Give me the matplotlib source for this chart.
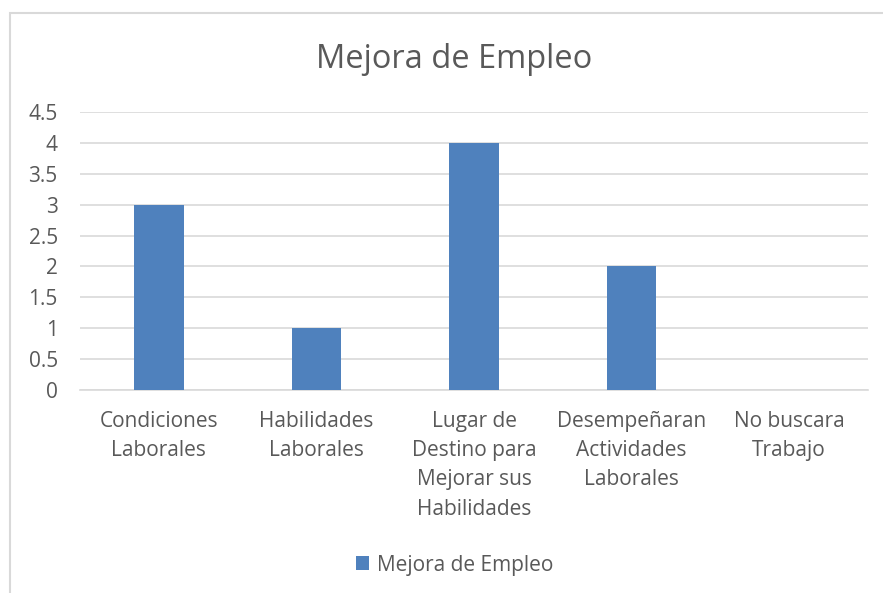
import matplotlib
matplotlib.use("Agg")
import matplotlib.pyplot as plt
from matplotlib.patches import Rectangle

categories = ["Condiciones\nLaborales", "Habilidades\nLaborales",
              "Lugar de\nDestino para\nMejorar sus\nHabilidades",
              "Desempeñaran\nActividades\nLaborales", "No buscara\nTrabajo"]
values = [3, 1, 4, 2, 0]
yticks = [0, 0.5, 1, 1.5, 2, 2.5, 3, 3.5, 4, 4.5]
ytick_labels = ["0", "0.5", "1", "1.5", "2", "2.5", "3", "3.5", "4", "4.5"]
series_name = "Mejora de Empleo"
title = "Mejora de Empleo"

plt.rcParams['font.family'] = ['Open Sans', 'DejaVu Sans']
W, H = 883, 593
fig = plt.figure(figsize=(W/100, H/100), dpi=100)
fig.patch.set_facecolor("white")

# chart frame
fig.add_artist(Rectangle((10/W, -0.01), 1.0, 1 - 13/H + 0.01, transform=fig.transFigure,
                         fill=False, edgecolor="#D9D9D9", linewidth=1.5))

left, right = 80/W, 868/W
bottom, top = 1 - 390/H, 1 - 112/H
ax = fig.add_axes([left, bottom, right - left, top - bottom])
x = list(range(len(categories)))
ax.bar(x, values, width=0.315, color="#4F81BD", zorder=3, label=series_name)
ax.set_xlim(-0.5, len(categories) - 0.5)
ax.set_ylim(0, 4.5)
ax.set_yticks(yticks)
ax.set_yticklabels(ytick_labels, fontsize=15, color="#595959")
ax.set_xticks(x)
ax.set_xticklabels(categories, fontsize=15, color="#595959", linespacing=1.52, va="top")
ax.tick_params(axis="both", length=0)
ax.tick_params(axis="x", pad=15)
ax.tick_params(axis="y", pad=16)
for lab in ax.get_yticklabels():
    lab.set_horizontalalignment("right")
ax.grid(axis="y", color="#D9D9D9", linewidth=1.2, zorder=0)
for s in ["top", "right", "left"]:
    ax.spines[s].set_visible(False)
ax.spines["bottom"].set_color("#D9D9D9")
ax.spines["bottom"].set_linewidth(1.2)

fig.text(454/W, 1 - 60/H, title, ha="center", va="center", fontsize=23.5, color="#595959")

leg = fig.legend(loc="center", bbox_to_anchor=(455/W, 1 - 565/H), frameon=False,
                 fontsize=15, handlelength=0.62, handleheight=0.62, handletextpad=0.4)
for t in leg.get_texts():
    t.set_color("#595959")

fig.savefig("out.png", dpi=100)
